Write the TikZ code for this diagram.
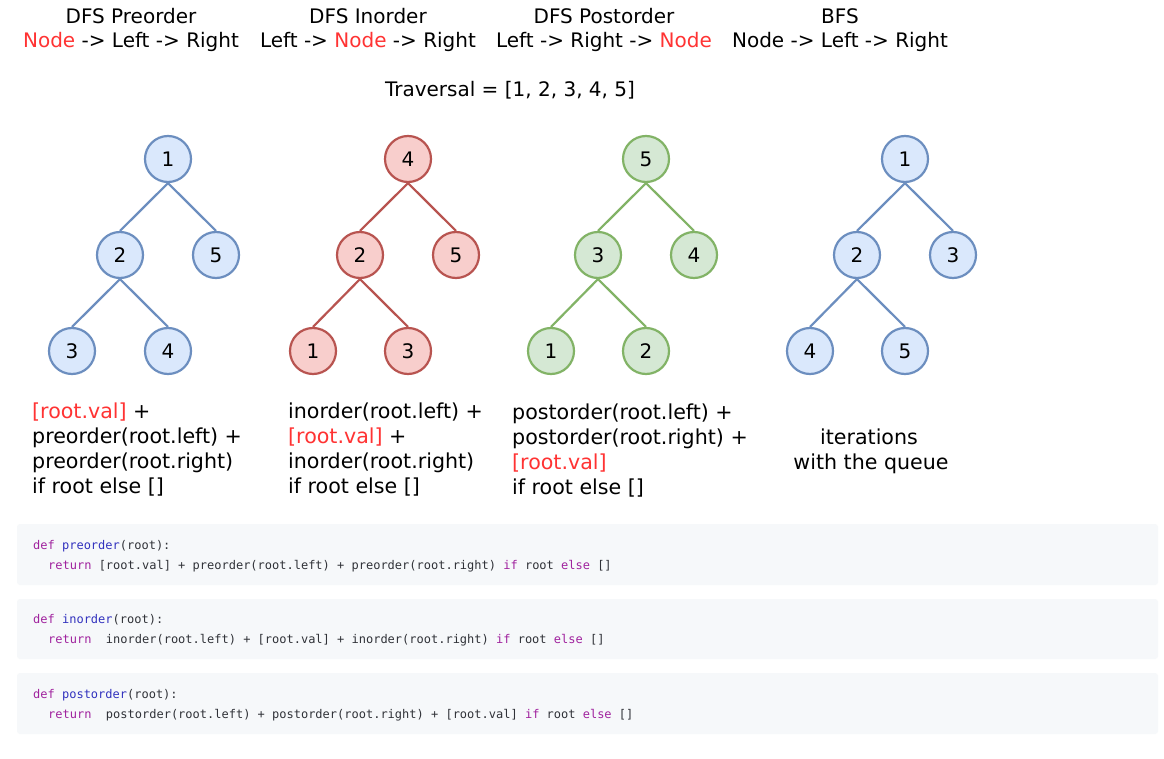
\documentclass[tikz,border=0pt]{standalone}
\usepackage{fontspec}
\setmainfont{DejaVu Sans}
\newfontfamily\codefont{DejaVu Sans Mono}

\definecolor{hl}{HTML}{FF3333}
\definecolor{bfill}{HTML}{DAE8FC}
\definecolor{bdraw}{HTML}{6C8EBF}
\definecolor{rfill}{HTML}{F8CECC}
\definecolor{rdraw}{HTML}{B85450}
\definecolor{gfill}{HTML}{D5E8D4}
\definecolor{gdraw}{HTML}{82B366}
\definecolor{codebg}{HTML}{F6F8FA}
\definecolor{kw}{HTML}{A0229E}
\definecolor{fn}{HTML}{3232BE}
\definecolor{codetxt}{HTML}{303238}

\newcommand{\kwd}[1]{\textcolor{kw}{#1}}
\newcommand{\fnm}[1]{\textcolor{fn}{#1}}

\begin{document}
\begin{tikzpicture}[x=1pt,y=-1pt,
  tnode/.style={circle, minimum size=46pt, inner sep=0pt, line width=2.2pt,
    font=\fontsize{20}{24}\selectfont},
  bnode/.style={tnode, fill=bfill, draw=bdraw},
  rnode/.style={tnode, fill=rfill, draw=rdraw},
  gnode/.style={tnode, fill=gfill, draw=gdraw},
  bedge/.style={draw=bdraw, line width=2.2pt},
  redge/.style={draw=rdraw, line width=2.2pt},
  gedge/.style={draw=gdraw, line width=2.2pt},
  txt/.style={inner sep=0pt, font=\fontsize{20}{25}\selectfont},
  btxt/.style={inner sep=0pt, font=\fontsize{20.6}{25}\selectfont},
  codebox/.style={fill=codebg, rounded corners=3pt},
  code/.style={inner sep=0pt, anchor=base west, text=codetxt,
    font=\codefont\fontsize{12}{14}\selectfont}]

\useasboundingbox[fill=white] (0,0) rectangle (1164,759);

% headings
\node[txt, anchor=base] (h1a) at (131,24) {DFS Preorder};
\node[txt, anchor=base] (h1b) at (131,48) {\textcolor{hl}{Node} -> Left -> Right};
\node[txt, anchor=base] (h2a) at (368,24) {DFS Inorder};
\node[txt, anchor=base] (h2b) at (368,48) {Left -> \textcolor{hl}{Node} -> Right};
\node[txt, anchor=base] (h3a) at (604,24) {DFS Postorder};
\node[txt, anchor=base] (h3b) at (604,48) {Left -> Right -> \textcolor{hl}{Node}};
\node[txt, anchor=base] (h4a) at (840,24) {BFS};
\node[txt, anchor=base] (h4b) at (840,48) {Node -> Left -> Right};
\node[txt, anchor=base] (trav) at (510,97) {Traversal = [1, 2, 3, 4, 5]};

% preorder tree
\node[bnode] (a1) at (168,159) {1};
\node[bnode] (a2) at (120,255) {2};
\node[bnode] (a5) at (216,255) {5};
\node[bnode] (a3) at (72,351) {3};
\node[bnode] (a4) at (168,351) {4};
\draw[bedge] (a1.south) -- (a2.north);
\draw[bedge] (a1.south) -- (a5.north);
\draw[bedge] (a2.south) -- (a3.north);
\draw[bedge] (a2.south) -- (a4.north);

% inorder tree
\node[rnode] (b4) at (408,159) {4};
\node[rnode] (b2) at (360,255) {2};
\node[rnode] (b5) at (456,255) {5};
\node[rnode] (b1) at (313,351) {1};
\node[rnode] (b3) at (408,351) {3};
\draw[redge] (b4.south) -- (b2.north);
\draw[redge] (b4.south) -- (b5.north);
\draw[redge] (b2.south) -- (b1.north);
\draw[redge] (b2.south) -- (b3.north);

% postorder tree
\node[gnode] (c5) at (646,159) {5};
\node[gnode] (c3) at (598,255) {3};
\node[gnode] (c4) at (694,255) {4};
\node[gnode] (c1) at (551,351) {1};
\node[gnode] (c2) at (646,351) {2};
\draw[gedge] (c5.south) -- (c3.north);
\draw[gedge] (c5.south) -- (c4.north);
\draw[gedge] (c3.south) -- (c1.north);
\draw[gedge] (c3.south) -- (c2.north);

% bfs tree
\node[bnode] (d1) at (905,159) {1};
\node[bnode] (d2) at (857,255) {2};
\node[bnode] (d3) at (953,255) {3};
\node[bnode] (d4) at (810,351) {4};
\node[bnode] (d5) at (905,351) {5};
\draw[bedge] (d1.south) -- (d2.north);
\draw[bedge] (d1.south) -- (d3.north);
\draw[bedge] (d2.south) -- (d4.north);
\draw[bedge] (d2.south) -- (d5.north);

% recursive formulas
\node[btxt, anchor=base west] (f1a) at (32,418) {\textcolor{hl}{[root.val]} +};
\node[btxt, anchor=base west] (f1b) at (32,443) {preorder(root.left) +};
\node[btxt, anchor=base west] (f1c) at (32,468) {preorder(root.right)};
\node[btxt, anchor=base west] (f1d) at (32,493) {if root else []};

\node[btxt, anchor=base west] (f2a) at (288,418) {inorder(root.left) +};
\node[btxt, anchor=base west] (f2b) at (288,443) {\textcolor{hl}{[root.val]} +};
\node[btxt, anchor=base west] (f2c) at (288,468) {inorder(root.right)};
\node[btxt, anchor=base west] (f2d) at (288,493) {if root else []};

\node[btxt, anchor=base west] (f3a) at (512,419) {postorder(root.left) +};
\node[btxt, anchor=base west] (f3b) at (512,444) {postorder(root.right) +};
\node[btxt, anchor=base west] (f3c) at (512,469) {\textcolor{hl}{[root.val]}};
\node[btxt, anchor=base west] (f3d) at (512,494) {if root else []};

\node[btxt, anchor=base] (f4a) at (869,444) {iterations};
\node[btxt, anchor=base] (f4b) at (871,469) {with the queue};

% code listings
\fill[codebox] (17,524) rectangle (1158,585);
\fill[codebox] (17,599) rectangle (1158,659);
\fill[codebox] (17,673) rectangle (1158,734);

\node[code] (c1a) at (33,549) {\kwd{def} \fnm{preorder}(root):};
\node[code] (c1b) at (48,569) {\kwd{return} [root.val] + preorder(root.left) + preorder(root.right) \kwd{if} root \kwd{else} []};
\node[code] (c2a) at (33,623) {\kwd{def} \fnm{inorder}(root):};
\node[code] (c2b) at (48,643) {\kwd{return}\ \ inorder(root.left) + [root.val] + inorder(root.right) \kwd{if} root \kwd{else} []};
\node[code] (c3a) at (33,698) {\kwd{def} \fnm{postorder}(root):};
\node[code] (c3b) at (48,718) {\kwd{return}\ \ postorder(root.left) + postorder(root.right) + [root.val] \kwd{if} root \kwd{else} []};

\end{tikzpicture}
\end{document}
